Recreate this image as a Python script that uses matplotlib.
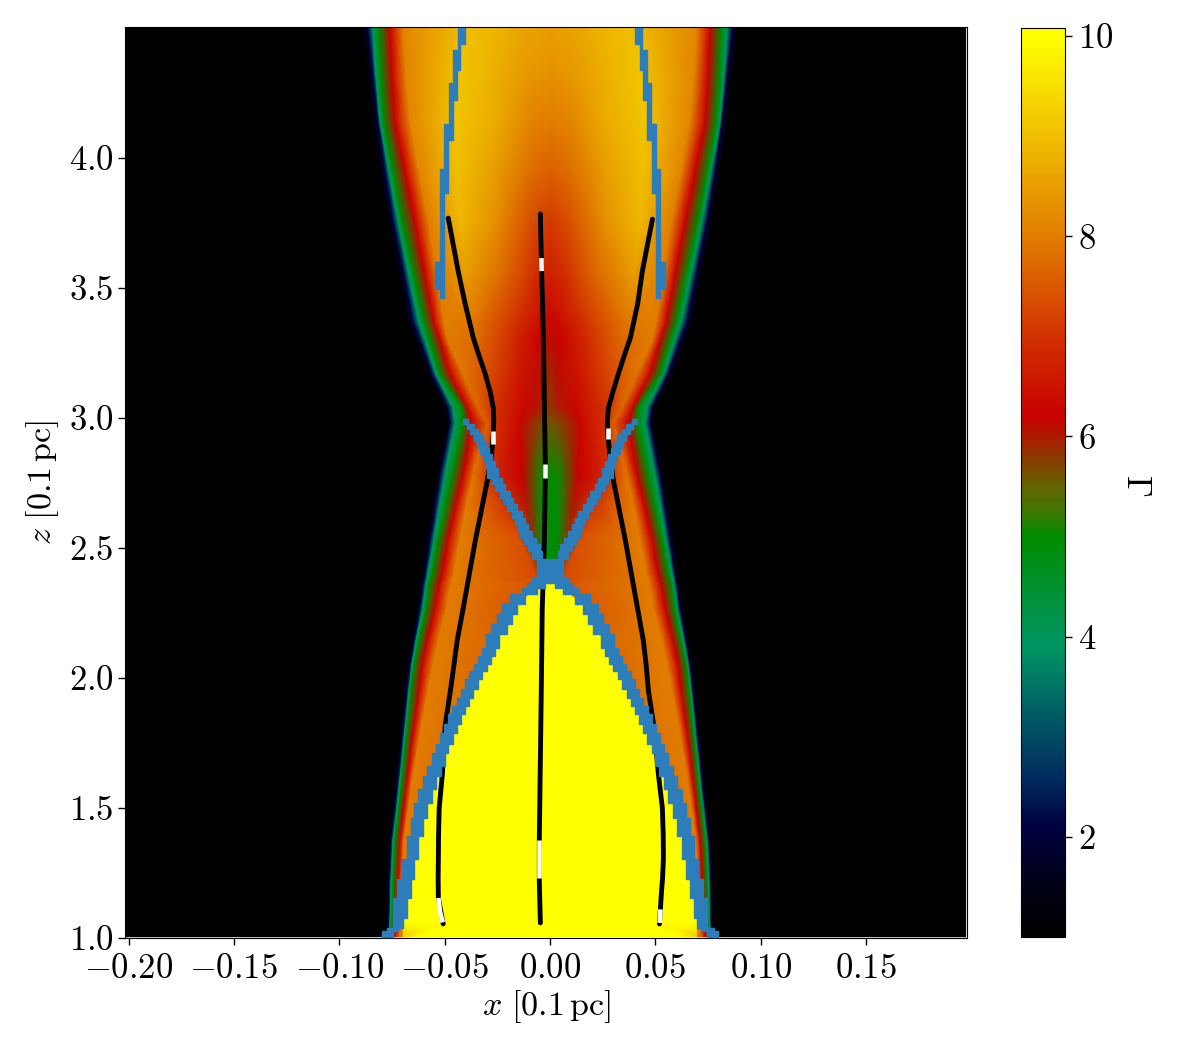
import matplotlib
matplotlib.use('Agg')
import matplotlib.pyplot as plt
import numpy as np
from matplotlib.colors import LinearSegmentedColormap, Normalize

plt.rcParams['mathtext.fontset'] = 'cm'
plt.rcParams['font.family'] = ['cmr10', 'DejaVu Sans']
plt.rcParams['axes.formatter.use_mathtext'] = True

# colour scale
cmap_gamma = [1.0, 1.5, 2.1, 2.6, 3.2, 3.9, 4.4, 5.0, 5.24, 5.5, 5.77, 5.97, 6.2, 7.0, 8.0, 9.0, 10.0, 10.08]
cmap_rgb = [(0, 0, 0), (0, 0, 20), (0, 0, 65), (0, 45, 95), (0, 90, 100), (0, 150, 100), (0, 145, 55),
            (0, 140, 0), (60, 120, 0), (100, 100, 0), (135, 60, 0), (170, 30, 0), (200, 0, 0), (210, 50, 0),
            (225, 125, 0), (240, 190, 0), (255, 255, 0), (255, 255, 0)]
gamma_min = 1.0
gamma_max = 10.08

# field, read at some heights: radii of the colour bands (x scale of 2106 units per x=1)
x_scale = 2106.0
z_rows = [1.005, 1.06, 1.2, 1.37, 1.57, 1.76, 1.95, 2.05, 2.14, 2.27, 2.36, 2.40, 2.53, 2.65, 2.78, 2.98, 3.04, 3.17, 3.30, 3.37, 3.55, 3.76, 3.95, 4.14, 4.32, 4.50]
r_black = [164, 163, 163, 161, 156, 151, 146, 143, 139, 133, 130, 128, 124, 119, 113, 103, 105, 123, 135, 142, 151, 162, 170, 177, 182, 187]
r_navy = [162, 161, 161, 159, 153, 148, 143, 140, 136, 130, 127, 125, 120, 115, 110, 100, 102, 118, 130, 137, 146, 157, 165, 172, 177, 182]
r_teal = [161, 160, 159, 157, 151, 146, 141, 138, 134, 127, 124, 122, 116, 111, 105, 95, 97, 114, 125, 131, 141, 152, 161, 170, 174, 177]
r_green = [159, 158, 157, 155, 149, 144, 139, 136, 131, 124, 121, 118, 112, 105, 98, 87, 88, 110, 120, 126, 136, 148, 157, 166, 169, 171]
r_red = [155, 154, 152, 150, 144, 138, 131, 128, 123, 115, 111, 108, 102, 95, 87, 78, 83, 100, 110, 116, 125, 135, 145, 155, 158, 160]
r_orange = [150, 149, 148, 146, 139, 131, 122, 117, 112, 103, 99, 96, 90, 84, 77, 63, 72, 87, 102, 106, 113, 122, 131, 140, 144, 147]
r_3 = [148, 148, 145, 135, 121, 104, 79, 66, 54, 39, 8, 15, 30, 45, 60, 55, 60, 60, 70, 75, 83, 90, 93, 95, 90, 85]
r_2 = [146, 147, 144, 134, 120, 103, 78, 65, 53, 38, 7, 8, 17, 22, 28, 30, 25, 28, 35, 35, 45, 55, 55, 55, 58, 60]
r_1 = [128, 100, 100, 100, 90, 80, 60, 50, 40, 30, 5, 3, 8, 9, 10, 10, 8, 8, 10, 10, 15, 20, 20, 20, 22, 25]
g_axis = [10.3, 10.3, 10.3, 10.3, 10.3, 10.3, 10.3, 10.3, 10.3, 10.3, 10.3, 5.0, 4.9, 4.95, 5.0, 5.6, 5.8, 5.9, 6.1, 6.3, 6.7, 7.1, 7.6, 8.0, 8.3, 8.5]
g_1 = [10.3, 10.3, 10.3, 10.3, 10.3, 10.3, 10.3, 10.3, 10.3, 10.3, 10.3, 5.0, 5.0, 5.05, 5.1, 5.7, 6.0, 6.1, 6.2, 6.4, 6.9, 7.4, 7.8, 8.1, 8.4, 8.6]
g_2 = [9.2, 10.3, 10.3, 10.3, 10.3, 10.3, 10.3, 10.3, 10.3, 10.3, 10.3, 5.8, 5.8, 6.0, 6.2, 6.3, 6.3, 6.5, 6.8, 7.0, 7.7, 8.3, 8.5, 8.7, 8.8, 8.9]
g_3 = [7.9, 7.8, 7.8, 7.8, 7.8, 7.8, 7.8, 7.7, 7.7, 7.5, 7.4, 7.3, 7.4, 7.1, 6.9, 7.0, 7.1, 7.3, 7.7, 7.9, 8.5, 8.9, 9.0, 9.1, 9.1, 9.0]
g_orange = [8.0, 8.0, 8.0, 8.0, 8.0, 8.0, 8.0, 8.0, 8.0, 8.0, 8.0, 8.0, 8.0, 8.0, 7.9, 7.6, 7.7, 7.9, 8.0, 8.0, 8.0, 8.0, 8.1, 8.1, 8.1, 8.1]
g_bands = [1.0, 2.1, 3.9, 5.0, 6.2]

# blue staircases, each step is z of its lower side, outer and inner |x|
arch_z = [1.005, 1.027, 1.04, 1.078, 1.155, 1.226, 1.303, 1.392, 1.463, 1.52, 1.572, 1.623, 1.662, 1.713, 1.747, 1.79,
          1.822, 1.86, 1.892, 1.924, 1.959, 1.995, 2.027, 2.053, 2.085, 2.117, 2.168, 2.206, 2.245, 2.283, 2.322, 2.345,
          2.365, 2.386, 2.458]
arch_out = [.0799, .0776, .0744, .0744, .0725, .0701, .0681, .0662, .0646, .0625, .0602, .0582, .0562, .0543, .0522,
            .0503, .0483, .0464, .0443, .0424, .0404, .0385, .0361, .0340, .0324, .0304, .0282, .0253, .0229, .0190,
            .0135, .0110, .0087, .0060, .0060]
arch_in = [.0744, .0720, .0696, .0681, .0662, .0646, .0625, .0602, .0582, .0562, .0541, .0519, .0499, .0483, .0462,
           .0443, .0424, .0404, .0383, .0364, .0340, .0321, .0301, .0282, .0261, .0241, .0206, .0182, .0158, .0119,
           .0060, .0024, 0, 0, 0]
arm_z = [2.456, 2.488, 2.514, 2.54, 2.565, 2.591, 2.617, 2.642, 2.668, 2.693, 2.719, 2.745, 2.77, 2.809, 2.835, 2.86,
         2.886, 2.912, 2.937, 2.956, 2.976, 2.995]
arm_out = [.0087, .0103, .0123, .0142, .0150, .0166, .0182, .0203, .0222, .0237, .0261, .0277, .0298, .0304, .0320,
           .0332, .0348, .0361, .0380, .0396, .0412, .0412]
arm_in = [.0040, .0047, .0066, .0087, .0103, .0119, .0134, .0155, .0174, .0190, .0214, .0229, .0245, .0261, .0277,
          .0288, .0304, .0320, .0340, .0361, .0388, .0388]
top_z = [3.463, 3.497, 3.601, 3.867, 3.956, 4.068, 4.13, 4.223, 4.287, 4.337, 4.414, 4.437, 4.5]
top_out = [.0524, .0544, .0524, .0524, .0502, .0502, .0481, .0481, .0459, .0459, .0438, .0438, .0438]
top_in = [.0503, .0503, .0503, .0483, .0483, .0462, .0462, .0440, .0440, .0427, .0427, .0404, .0404]

# streamlines
left_x = [-.0483, -.0436, -.0403, -.0364, -.0337, -.0307, -.0284, -.0269, -.0267, -.0269, -.0279, -.0298, -.0355, -.0383, -.0412, -.0441, -.0456, -.0473, -.0497, -.0505, -.0511, -.0526, -.0529, -.0530, -.0531, -.0530, -.0516, -.0507]
left_z = [3.769, 3.565, 3.44, 3.308, 3.24, 3.169, 3.10, 3.038, 2.99, 2.938, 2.846, 2.758, 2.527, 2.4, 2.269, 2.142, 2.05, 1.95, 1.823, 1.73, 1.631, 1.5, 1.4, 1.308, 1.23, 1.154, 1.092, 1.054]
mid_x = [-.0046, -.0041, -.0032, -.0027, -.0022, -.0027, -.0037, -.0041, -.0046, -.0051, -.0051, -.0046]
mid_z = [3.785, 3.596, 3.335, 3.065, 2.796, 2.527, 2.269, 1.988, 1.681, 1.373, 1.219, 1.058]
right_x = [.0486, .0438, .0416, .0381, .0352, .0324, .0298, .0277, .0272, .0272, .0286, .0301, .0358, .0386, .0415, .0443, .0456, .0467, .0491, .0503, .0514, .0533, .0537, .0538, .0534, .0529, .0524, .0519]
right_z = [3.765, 3.565, 3.44, 3.308, 3.24, 3.169, 3.10, 3.038, 2.99, 2.95, 2.846, 2.758, 2.527, 2.4, 2.269, 2.142, 2.05, 1.95, 1.823, 1.73, 1.631, 1.5, 1.4, 1.308, 1.23, 1.181, 1.115, 1.054]

# white parts of the streamlines
white_x = [[-.0272, -.0272], [-.0530, -.0522, -.0509], [-.0041, -.0040], [-.0022, -.0022], [-.0051, -.0051], [.0273, .0273], [.0524, .0520]]
white_z = [[2.95, 2.90], [1.154, 1.10, 1.06], [3.615, 3.565], [2.823, 2.769], [1.377, 1.231], [2.96, 2.92], [1.11, 1.058]]

x_ticks = [-0.20, -0.15, -0.10, -0.05, 0.00, 0.05, 0.10, 0.15]
x_tick_labels = ['$-0.20$', '$-0.15$', '$-0.10$', '$-0.05$', '$0.00$', '$0.05$', '$0.10$', '$0.15$']
z_ticks = [1.0, 1.5, 2.0, 2.5, 3.0, 3.5, 4.0]
z_tick_labels = ['$1.0$', '$1.5$', '$2.0$', '$2.5$', '$3.0$', '$3.5$', '$4.0$']
cbar_ticks = [2, 4, 6, 8, 10]
cbar_tick_labels = ['$2$', '$4$', '$6$', '$8$', '$10$']

W, H = 1200.0, 1050.0
fig = plt.figure(figsize=(12, 10.5), dpi=100)
ax = fig.add_axes([125 / W, 1 - 938 / H, 842.5 / W, 911 / H])
cax = fig.add_axes([1021 / W, 1 - 937 / H, 44 / W, 909 / H])

# colormap
pos = [(g - gamma_min) / (gamma_max - gamma_min) for g in cmap_gamma]
cols = [(r / 255, g / 255, b / 255) for r, g, b in cmap_rgb]
cmap = LinearSegmentedColormap.from_list('gamma', list(zip(pos, cols)), N=512)
norm = Normalize(gamma_min, gamma_max)

# curved mesh, columns follow the colour bands, mirrored in x
radii = np.array([r_black, r_navy, r_teal, r_green, r_red, r_orange, r_3, r_2, r_1], dtype=float).T / x_scale
n_rows = len(z_rows)
x_left = np.full((n_rows, 1), -0.2017)
x_right = np.full((n_rows, 1), 0.1972)
centre = np.zeros((n_rows, 1))
X = np.hstack([x_left, -radii, centre, radii[:, ::-1], x_right])
Z = np.tile(np.array(z_rows)[:, None], (1, X.shape[1]))
bands = np.tile(np.array(g_bands), (n_rows, 1))
inner = np.array([g_orange, g_3, g_2, g_1]).T
half = np.hstack([bands, inner])
floor = np.full((n_rows, 1), 1.0)
G = np.hstack([floor, half, np.array(g_axis)[:, None], half[:, ::-1], floor])

ax.set_facecolor('white')
mesh = ax.pcolormesh(X, Z, G, shading='gouraud', cmap=cmap, norm=norm, zorder=1, rasterized=True)

# streamlines
for xs, zs in [(left_x, left_z), (mid_x, mid_z), (right_x, right_z)]:
    ax.plot(xs, zs, color='k', lw=3.5, solid_capstyle='round', solid_joinstyle='round', zorder=3)
for xs, zs in zip(white_x, white_z):
    ax.plot(xs, zs, color='w', lw=3.3, solid_capstyle='butt', zorder=3.5)

# blue cells
blue = '#2d7dba'
for zs, outer, inn in [(arch_z, arch_out, arch_in), (arm_z, arm_out, arm_in), (top_z, top_out, top_in)]:
    zs = np.array(zs)
    outer = np.array(outer)
    inn = np.array(inn)
    ax.fill_betweenx(zs, -outer, -inn, step='post', color=blue, lw=1, zorder=4)
    ax.fill_betweenx(zs, inn, outer, step='post', color=blue, lw=1, zorder=4)

ax.set_xlim(-0.2017, 0.1981)
ax.set_ylim(1.0, 4.504)
ax.set_xticks(x_ticks)
ax.set_xticklabels(x_tick_labels)
ax.set_yticks(z_ticks)
ax.set_yticklabels(z_tick_labels)
ax.tick_params(axis='both', length=5, width=1, labelsize=25, pad=3)
ax.tick_params(axis='x', pad=6)
ax.set_xlabel(r'$x\ [0.1\,\mathrm{pc}]$', fontsize=24.5, labelpad=2)
ax.set_ylabel(r'$z\ [0.1\,\mathrm{pc}]$', fontsize=24.5, labelpad=6)

cb = fig.colorbar(mesh, cax=cax, ticks=cbar_ticks)
cb.ax.set_yticklabels(cbar_tick_labels)
cb.ax.tick_params(length=5, width=1, labelsize=25, pad=4)
cb.set_label(r'$\Gamma$', fontsize=25, rotation=270, labelpad=28, y=0.497)

fig.savefig('out.png', dpi=100)
